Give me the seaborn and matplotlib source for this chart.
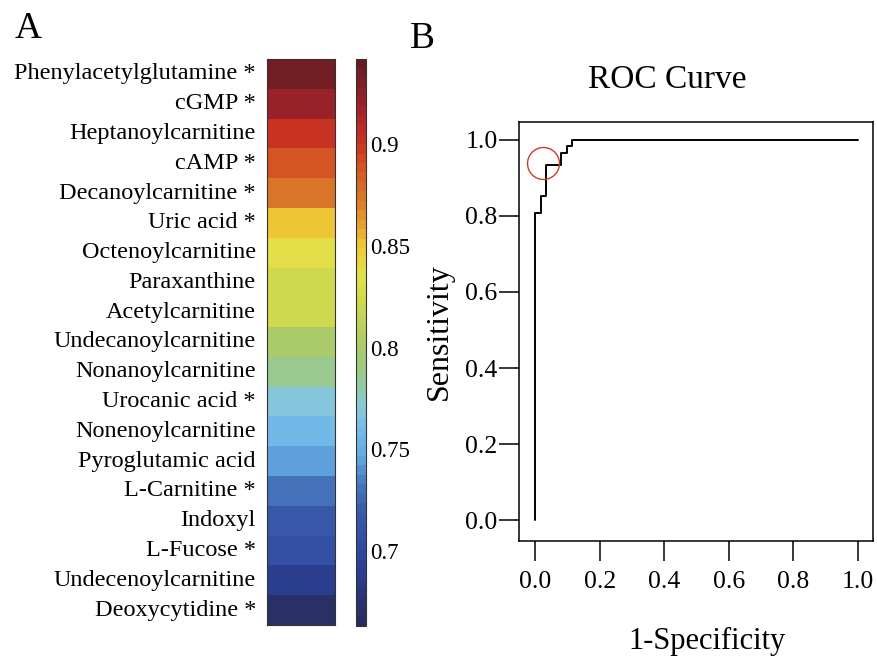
import numpy as np
import pandas as pd
import matplotlib
matplotlib.use("Agg")
import matplotlib.pyplot as plt
import seaborn as sns
from matplotlib.colors import LinearSegmentedColormap

# ---------------- data ----------------
metabolites = [
    "Phenylacetylglutamine *", "cGMP *", "Heptanoylcarnitine", "cAMP *",
    "Decanoylcarnitine *", "Uric acid *", "Octenoylcarnitine", "Paraxanthine",
    "Acetylcarnitine", "Undecanoylcarnitine", "Nonanoylcarnitine",
    "Urocanic acid *", "Nonenoylcarnitine", "Pyroglutamic acid",
    "L-Carnitine *", "Indoxyl", "L-Fucose *", "Undecenoylcarnitine",
    "Deoxycytidine *",
]
auc_values = [0.935, 0.92, 0.903, 0.89, 0.875, 0.852, 0.836, 0.822, 0.822,
              0.801, 0.787, 0.769, 0.757, 0.746, 0.731, 0.716, 0.706, 0.69,
              0.668]
cbar_ticks = [0.7, 0.75, 0.8, 0.85, 0.9]
cbar_labels = ["0.7", "0.75", "0.8", "0.85", "0.9"]

roc_fpr = [0.0, 0.0, 0.0176, 0.0176, 0.033, 0.033, 0.0806, 0.0806, 0.098,
           0.098, 0.1136, 0.1136, 1.0]
roc_tpr = [0.0, 0.807, 0.807, 0.853, 0.853, 0.934, 0.934, 0.965, 0.965,
           0.984, 0.984, 1.0, 1.0]
cutoff_fpr = [0.025]
cutoff_tpr = [0.939]
roc_ticks = [0.0, 0.2, 0.4, 0.6, 0.8, 1.0]
roc_ticklabels = ["0.0", "0.2", "0.4", "0.6", "0.8", "1.0"]

# ---------------- style ----------------
sns.set_style("white")
plt.rcParams["font.family"] = ["Liberation Serif", "DejaVu Serif"]
plt.rcParams["text.color"] = "black"
plt.rcParams["axes.labelcolor"] = "black"
plt.rcParams["xtick.color"] = "black"
plt.rcParams["ytick.color"] = "black"

vmin, vmax = 0.663, 0.942
stops = [
    (0.663, "#272d5a"), (0.690, "#2c3f97"), (0.706, "#3450a4"),
    (0.716, "#3858a8"), (0.731, "#4676bd"), (0.746, "#64aae3"),
    (0.757, "#70b9e8"), (0.769, "#8ac9da"), (0.787, "#9ac98a"),
    (0.801, "#abcb68"), (0.822, "#ccd84f"), (0.836, "#e2e24a"),
    (0.852, "#ecc534"), (0.862, "#e69e30"), (0.875, "#d97629"),
    (0.890, "#d45523"), (0.903, "#cb3322"), (0.920, "#a1222a"),
    (0.942, "#661b22"),
]
cmap = LinearSegmentedColormap.from_list(
    "auc", [((v - vmin) / (vmax - vmin), c) for v, c in stops], N=60)

fig = plt.figure(figsize=(8.77, 6.57), dpi=100)
ax_h = fig.add_axes([267 / 877, 1 - 625 / 657, 68 / 877, 566 / 657])
ax_c = fig.add_axes([356 / 877, 1 - 626 / 657, 10 / 877, 567 / 657])
ax_r = fig.add_axes([519 / 877, 1 - 541 / 657, 354 / 877, 419 / 657])

# ---------------- heatmap ----------------
df = pd.DataFrame({"AUC": auc_values}, index=metabolites)
sns.heatmap(df, ax=ax_h, cmap=cmap, vmin=vmin, vmax=vmax, cbar_ax=ax_c,
            xticklabels=False, yticklabels=True)
ax_h.set_ylabel("")
ax_h.set_yticklabels(metabolites, rotation=0, fontsize=17.5, color="black")
ax_h.tick_params(axis="y", direction="in", left=True, right=True, length=4,
                 width=0.8, color="#333333", pad=8)
ax_h.tick_params(axis="x", bottom=False)
for s in ax_h.spines.values():
    s.set_visible(True)
    s.set_linewidth(0.8)
    s.set_color("#333333")

cb = ax_h.collections[0].colorbar
cb.set_ticks(cbar_ticks)
cb.set_ticklabels(cbar_labels)
cb.ax.tick_params(direction="in", length=7, width=1.0, color="#333333",
                  labelsize=16.5, labelcolor="black", pad=3)
cb.outline.set_visible(True)
cb.outline.set_linewidth(0.8)
cb.outline.set_edgecolor("#333333")

# ---------------- ROC ----------------
roc_df = pd.DataFrame({"fpr": roc_fpr, "tpr": roc_tpr})
sns.lineplot(data=roc_df, x="fpr", y="tpr", ax=ax_r, sort=False,
             estimator=None, color="black", linewidth=1.4)
ax_r.plot(cutoff_fpr, cutoff_tpr, marker="o", markersize=23,
          markerfacecolor="none", markeredgecolor="#cc3a2a",
          markeredgewidth=1.0, linestyle="none")
ax_r.set_xlim(-0.05, 1.047)
ax_r.set_ylim(-0.055, 1.047)
ax_r.set_xticks(roc_ticks)
ax_r.set_xticklabels(roc_ticklabels)
ax_r.set_yticks(roc_ticks)
ax_r.set_yticklabels(roc_ticklabels)
ax_r.tick_params(axis="both", direction="out", length=14.5, width=1.1,
                 color="black", labelcolor="black", labelsize=18.5,
                 bottom=True, left=True)
ax_r.tick_params(axis="x", pad=7)
ax_r.tick_params(axis="y", pad=1)
for s in ax_r.spines.values():
    s.set_visible(True)
    s.set_linewidth(1.1)
    s.set_color("black")
ax_r.set_xlabel("1-Specificity", fontsize=22, color="black")
ax_r.set_ylabel("Sensitivity", fontsize=23, color="black")
ax_r.xaxis.set_label_coords(0.53, -0.205)
ax_r.yaxis.set_label_coords(-0.185, 0.5)

fig.text(667 / 877, 1 - 88 / 657, "ROC Curve", fontsize=24, ha="center",
         va="baseline", color="black")
fig.text(15 / 877, 1 - 38 / 657, "A", fontsize=27, ha="left",
         va="baseline", color="black")
fig.text(410 / 877, 1 - 48 / 657, "B", fontsize=27, ha="left",
         va="baseline", color="black")

fig.savefig("out.png", dpi=100)
